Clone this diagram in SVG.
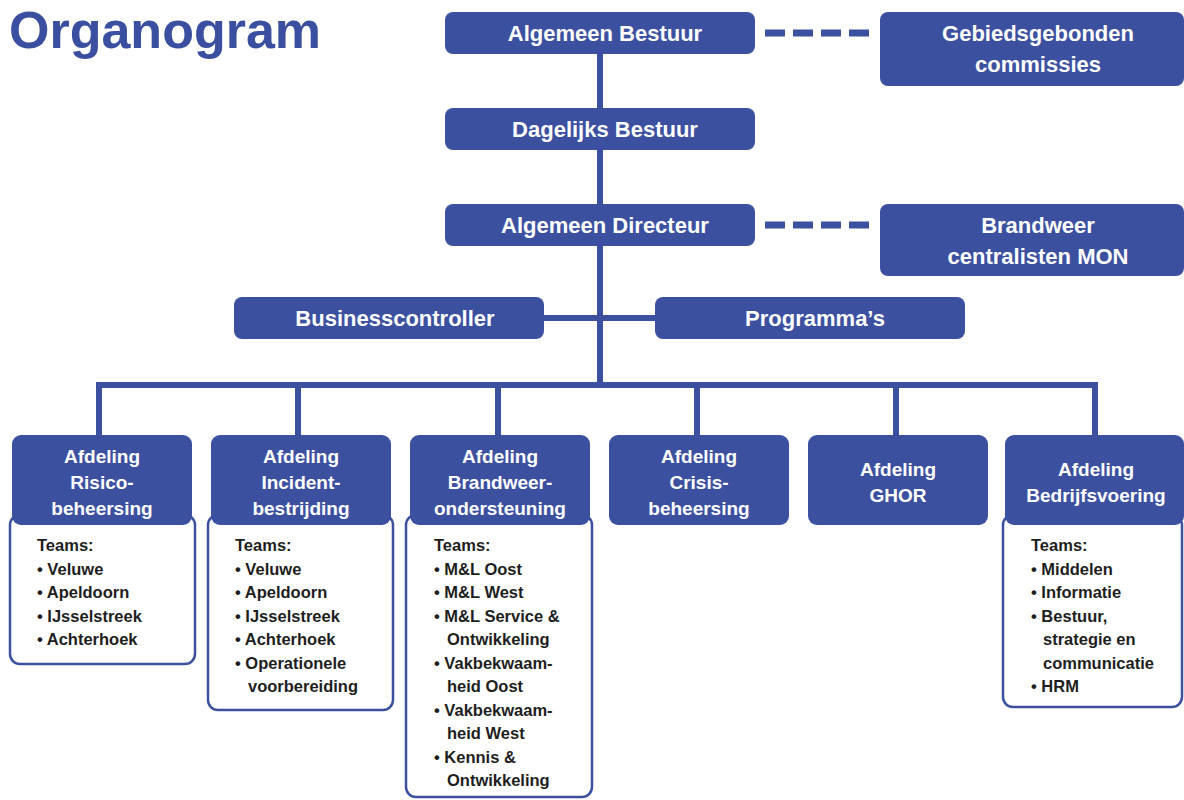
<svg xmlns="http://www.w3.org/2000/svg" width="1184" height="800" viewBox="0 0 1184 800">
<style>
.box{fill:#3c50a0;}
.team{fill:#ffffff;stroke:#3c50a0;stroke-width:2.5;}
.main{font-family:"Liberation Sans",Arial,sans-serif;font-weight:bold;font-size:22px;fill:#ffffff;text-anchor:middle;}
.dept{font-family:"Liberation Sans",Arial,sans-serif;font-weight:bold;font-size:19px;fill:#ffffff;text-anchor:middle;}
.tt{font-family:"Liberation Sans",Arial,sans-serif;font-weight:bold;font-size:16.5px;fill:#1e1e1e;}
.line{stroke:#3c50a0;stroke-width:6;fill:none;}
.dash{stroke:#3c50a0;stroke-width:7;fill:none;stroke-dasharray:20 8;}
.title{font-family:"Liberation Sans",Arial,sans-serif;font-weight:bold;font-size:52px;fill:#3a4f9f;}
</style>
<rect width="1184" height="800" fill="#ffffff"/>
<text class="title" x="9" y="48">Organogram</text>
<g id="connectors">
<line class="line" x1="600" y1="50" x2="600" y2="385"/>
<line class="line" x1="540" y1="318" x2="660" y2="318"/>
<path class="line" d="M99,438 V385 H1095 V438"/>
<line class="line" x1="298" y1="385" x2="298" y2="438"/>
<line class="line" x1="498" y1="385" x2="498" y2="438"/>
<line class="line" x1="697" y1="385" x2="697" y2="438"/>
<line class="line" x1="896" y1="385" x2="896" y2="438"/>
<line class="dash" x1="765" y1="33" x2="873" y2="33"/>
<line class="dash" x1="765" y1="225" x2="873" y2="225"/>
</g>
<g id="algemeen-bestuur"><rect class="box" x="445" y="12" width="310" height="42" rx="8"/><text class="main" x="605" y="41">Algemeen Bestuur</text></g>
<g id="gebiedsgebonden"><rect class="box" x="880" y="12" width="304" height="74" rx="8"/><text class="main" x="1038" y="41">Gebiedsgebonden</text><text class="main" x="1038" y="72">commissies</text></g>
<g id="dagelijks-bestuur"><rect class="box" x="445" y="108" width="310" height="42" rx="8"/><text class="main" x="605" y="137">Dagelijks Bestuur</text></g>
<g id="algemeen-directeur"><rect class="box" x="445" y="204" width="310" height="42" rx="8"/><text class="main" x="605" y="233">Algemeen Directeur</text></g>
<g id="brandweer-centralisten"><rect class="box" x="880" y="204" width="304" height="72" rx="8"/><text class="main" x="1038" y="233">Brandweer</text><text class="main" x="1038" y="264">centralisten MON</text></g>
<g id="businesscontroller"><rect class="box" x="234" y="297" width="310" height="42" rx="8"/><text class="main" x="395" y="326">Businesscontroller</text></g>
<g id="programmas"><rect class="box" x="655" y="297" width="310" height="42" rx="8"/><text class="main" x="815" y="326">Programma’s</text></g>

<g id="risico">
<rect class="team" x="10" y="515" width="185" height="149" rx="10"/>
<rect class="box" x="12" y="435" width="180" height="90" rx="9"/>
<text class="dept" x="102" y="463">Afdeling</text><text class="dept" x="102" y="489">Risico-</text><text class="dept" x="102" y="515">beheersing</text>
<text class="tt" x="37" y="551">Teams:</text>
<text class="tt" x="37" y="574.5">• Veluwe</text>
<text class="tt" x="37" y="598">• Apeldoorn</text>
<text class="tt" x="37" y="621.5">• IJsselstreek</text>
<text class="tt" x="37" y="645">• Achterhoek</text>
</g>
<g id="incident">
<rect class="team" x="208" y="515" width="185" height="195" rx="10"/>
<rect class="box" x="211" y="435" width="180" height="90" rx="9"/>
<text class="dept" x="301" y="463">Afdeling</text><text class="dept" x="301" y="489">Incident-</text><text class="dept" x="301" y="515">bestrijding</text>
<text class="tt" x="235" y="551">Teams:</text>
<text class="tt" x="235" y="574.5">• Veluwe</text>
<text class="tt" x="235" y="598">• Apeldoorn</text>
<text class="tt" x="235" y="621.5">• IJsselstreek</text>
<text class="tt" x="235" y="645">• Achterhoek</text>
<text class="tt" x="235" y="668.5">• Operationele</text>
<text class="tt" x="248" y="692">voorbereiding</text>
</g>
<g id="brandweerondersteuning">
<rect class="team" x="406" y="515" width="186" height="282" rx="10"/>
<rect class="box" x="410" y="435" width="180" height="90" rx="9"/>
<text class="dept" x="500" y="463">Afdeling</text><text class="dept" x="500" y="489">Brandweer-</text><text class="dept" x="500" y="515">ondersteuning</text>
<text class="tt" x="434" y="551">Teams:</text>
<text class="tt" x="434" y="574.5">• M&amp;L Oost</text>
<text class="tt" x="434" y="598">• M&amp;L West</text>
<text class="tt" x="434" y="621.5">• M&amp;L Service &amp;</text>
<text class="tt" x="447" y="645">Ontwikkeling</text>
<text class="tt" x="434" y="668.5">• Vakbekwaam-</text>
<text class="tt" x="447" y="692">heid Oost</text>
<text class="tt" x="434" y="715.5">• Vakbekwaam-</text>
<text class="tt" x="447" y="739">heid West</text>
<text class="tt" x="434" y="762.5">• Kennis &amp;</text>
<text class="tt" x="447" y="786">Ontwikkeling</text>
</g>
<g id="crisis">
<rect class="box" x="609" y="435" width="180" height="90" rx="9"/>
<text class="dept" x="699" y="463">Afdeling</text><text class="dept" x="699" y="489">Crisis-</text><text class="dept" x="699" y="515">beheersing</text>
</g>
<g id="ghor">
<rect class="box" x="808" y="435" width="180" height="90" rx="9"/>
<text class="dept" x="898" y="476">Afdeling</text><text class="dept" x="898" y="502">GHOR</text>
</g>
<g id="bedrijfsvoering">
<rect class="team" x="1003" y="515" width="179" height="192" rx="10"/>
<rect class="box" x="1005" y="435" width="179" height="90" rx="9"/>
<text class="dept" x="1096" y="476">Afdeling</text><text class="dept" x="1096" y="502">Bedrijfsvoering</text>
<text class="tt" x="1031" y="551">Teams:</text>
<text class="tt" x="1031" y="574.5">• Middelen</text>
<text class="tt" x="1031" y="598">• Informatie</text>
<text class="tt" x="1031" y="621.5">• Bestuur,</text>
<text class="tt" x="1043" y="645">strategie en</text>
<text class="tt" x="1043" y="668.5">communicatie</text>
<text class="tt" x="1031" y="692">• HRM</text>
</g>
</svg>
